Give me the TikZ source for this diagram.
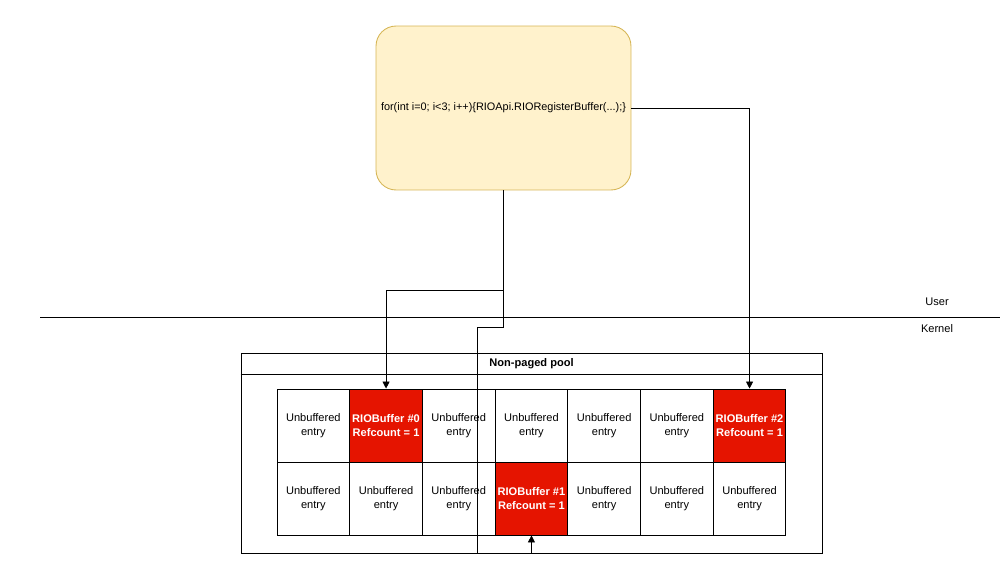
\documentclass[tikz,border=0pt]{standalone}
\usepackage{fontspec}
\setmainfont{Liberation Sans}
\usetikzlibrary{arrows.meta}
\definecolor{noteyellow}{HTML}{FFF2CC}
\definecolor{noteborder}{HTML}{D6B656}
\definecolor{bufred}{HTML}{E51400}
\newcommand{\lbl}{\fontsize{6.3}{7.9}\selectfont}
\tikzset{
  entry/.style={draw, minimum width=1.454cm, minimum height=1.46cm, inner sep=0pt, align=center, font=\lbl},
  rio/.style={entry, fill=bufred, text=white, font=\lbl\bfseries},
  link/.style={-{Triangle[length=4pt,width=4pt]}},
}
\begin{document}
\begin{tikzpicture}[x=0.02cm, y=-0.02cm, line width=0.5pt]
\useasboundingbox (0,0) rectangle (1000,582);

\node[draw=noteborder, fill=noteyellow, rounded corners=0.4cm, minimum width=5.1cm, minimum height=3.28cm, inner sep=1pt, font=\fontsize{6.2}{7.6}\selectfont] (code) at (503.5,108) {for(int i=0; i<3; i++)\{RIOApi.RIORegisterBuffer(...);\}};

% user / kernel split
\coordinate (lineL) at (40,317);
\coordinate (lineR) at (1000,317);
\draw (lineL) -- (lineR);
\node[font=\lbl] (user) at (937,302) {User};
\node[font=\lbl] (kernel) at (937,329) {Kernel};

\node[draw, minimum width=11.62cm, minimum height=4cm, inner sep=0pt] (pool) at (531.5,453) {};
\draw (pool.west |- 0,374) -- (pool.east |- 0,374);
\node[font=\lbl\bfseries] (poolname) at (531.5,363.5) {Non-paged pool};

\foreach \r/\c in {1/1,1/3,1/4,1/5,1/6,2/1,2/2,2/3,2/5,2/6,2/7}
  \node[entry] (cell-\r-\c) at ({277+72.7*(\c-0.5)},{389+73*(\r-0.5)}) {Unbuffered\\entry};

\node[rio] (buf0) at ({277+72.7*1.5},425.5) {RIOBuffer \#0\\Refcount = 1};
\node[rio] (buf1) at ({277+72.7*3.5},498.5) {RIOBuffer \#1\\Refcount = 1};
\node[rio] (buf2) at ({277+72.7*6.5},425.5) {RIOBuffer \#2\\Refcount = 1};

\coordinate (split) at (503.5,290);
\coordinate (jog1) at (503.5,327);
\coordinate (jog2) at (477,327);
\coordinate (jog3) at (477,553);

\draw[link] (code.east) -| (buf2.north);
\draw[link] (code.south) -- (split) -| (buf0.north);
\draw[link] (split) -- (jog1) -- (jog2) -- (jog3) -| (buf1.south);
\end{tikzpicture}
\end{document}
